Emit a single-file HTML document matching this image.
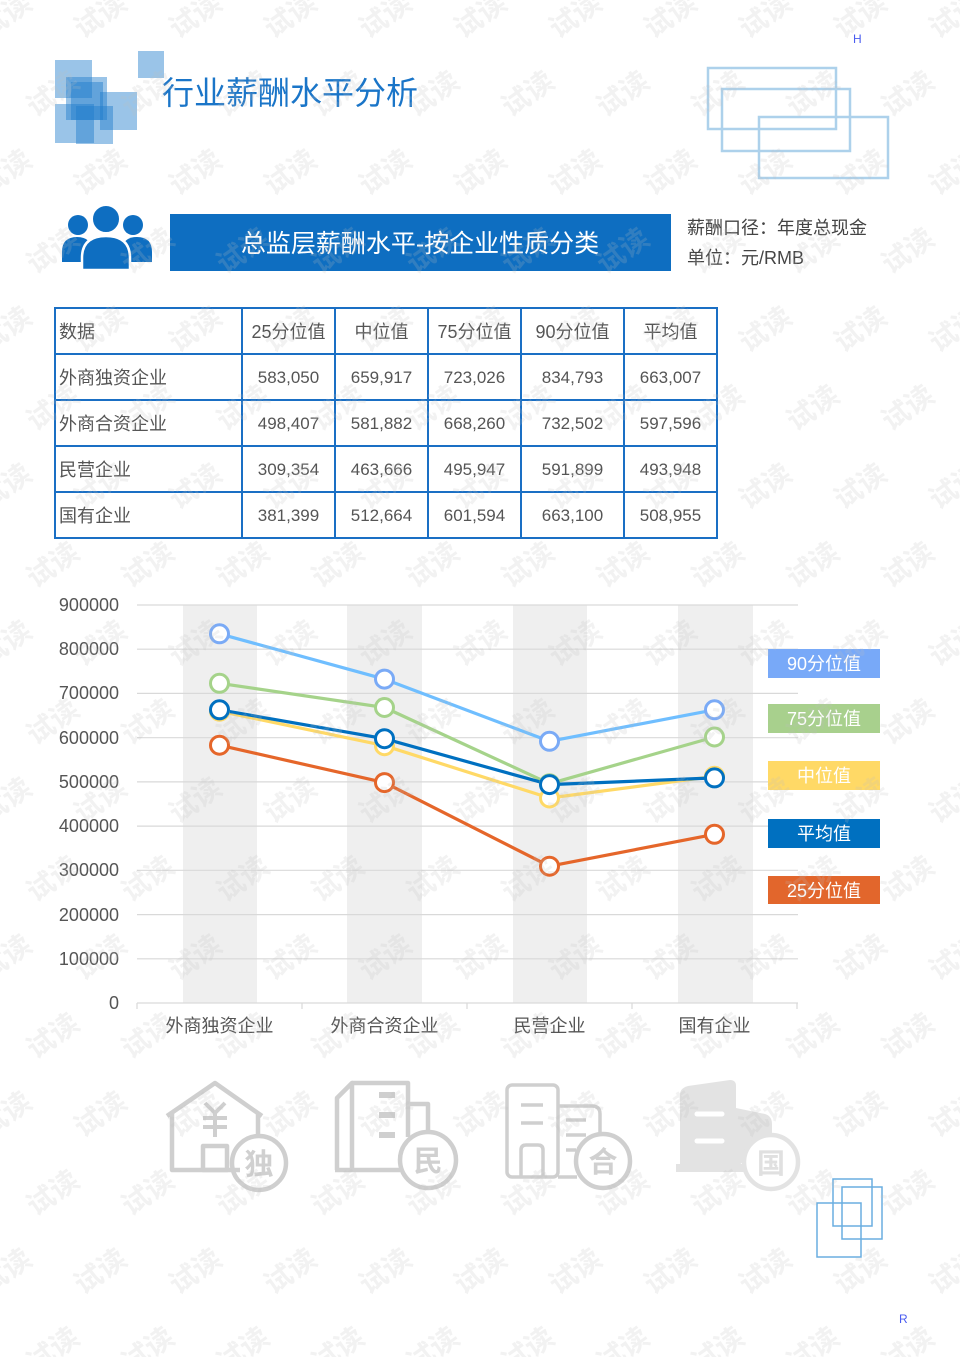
<!DOCTYPE html>
<html><head><meta charset="utf-8"><style>
html,body{margin:0;padding:0;background:#fff;}
svg{display:block;}
text{font-family:"Liberation Sans","Noto Sans CJK SC",sans-serif;}
</style></head><body>
<svg width="960" height="1357" viewBox="0 0 960 1357" xmlns="http://www.w3.org/2000/svg">
<defs>
<pattern id="wm" patternUnits="userSpaceOnUse" x="-42.5" y="-24" width="95" height="157">
<text x="47.5" y="49" font-size="28" font-weight="bold" fill="#bdbdbd" text-anchor="middle" transform="rotate(-35 47.5 39)">试读</text>
<text x="0" y="127.5" font-size="28" font-weight="bold" fill="#bdbdbd" text-anchor="middle" transform="rotate(-35 0 117.5)">试读</text>
<text x="95" y="127.5" font-size="28" font-weight="bold" fill="#bdbdbd" text-anchor="middle" transform="rotate(-35 95 117.5)">试读</text>
</pattern>
</defs>
<rect width="960" height="1357" fill="#fff"/>

<!-- logo squares -->
<g fill="#1f7ccc" fill-opacity="0.45">
<rect x="55" y="60" width="37" height="38"/>
<rect x="66" y="77" width="41" height="43"/>
<rect x="100" y="92" width="37" height="38"/>
<rect x="55" y="104" width="39" height="39"/>
<rect x="76" y="106" width="37" height="38"/>
<rect x="71" y="82" width="32" height="38"/>
<rect x="138" y="51" width="26" height="27"/>
</g>
<text x="162" y="104" font-size="32" fill="#1a75c8">行业薪酬水平分析</text>

<!-- top right rectangles -->
<g fill="none" stroke="#9fc9e8" stroke-width="2.5" opacity="0.85">
<rect x="708" y="68" width="128" height="61"/>
<rect x="722" y="89" width="128" height="62"/>
<rect x="759" y="117" width="129" height="61"/>
</g>
<text x="853" y="43" font-size="12" fill="#4a5cf0">H</text>

<!-- people icon -->
<g fill="#0e6ec1">
<circle cx="78" cy="225" r="10"/>
<circle cx="133" cy="225" r="10"/>
<path d="M62 262 L62 252 Q62 237 77 237 Q92 237 92 252 L92 262 Z"/>
<path d="M122 262 L122 252 Q122 237 137 237 Q152 237 152 252 L152 262 Z"/>
<circle cx="106" cy="219" r="14" stroke="#fff" stroke-width="2"/>
<path d="M82 270 L82 258 Q82 236 106 236 Q130 236 130 258 L130 270 Z" stroke="#fff" stroke-width="2.5"/>
</g>

<!-- banner -->
<rect x="170" y="214" width="501" height="57" fill="#0e6ec1"/>
<text x="420" y="252" font-size="25" fill="#fff" text-anchor="middle">总监层薪酬水平-按企业性质分类</text>
<text x="687" y="234" font-size="18" fill="#444">薪酬口径：年度总现金</text>
<text x="687" y="264" font-size="18" fill="#444">单位：元/RMB</text>

<!-- table -->
<g fill="none" stroke="#1a6fc4" stroke-width="2">
<rect x="55" y="308" width="662" height="230"/>
<line x1="55" y1="354" x2="717" y2="354"/>
<line x1="55" y1="400" x2="717" y2="400"/>
<line x1="55" y1="446" x2="717" y2="446"/>
<line x1="55" y1="492" x2="717" y2="492"/>
<line x1="242" y1="308" x2="242" y2="538"/>
<line x1="335" y1="308" x2="335" y2="538"/>
<line x1="428" y1="308" x2="428" y2="538"/>
<line x1="521" y1="308" x2="521" y2="538"/>
<line x1="624" y1="308" x2="624" y2="538"/>
</g>
<g font-size="18" fill="#555">
<text x="59" y="338">数据</text>
<text x="59" y="384">外商独资企业</text>
<text x="59" y="430">外商合资企业</text>
<text x="59" y="476">民营企业</text>
<text x="59" y="522">国有企业</text>
</g>
<g font-size="17" fill="#555" text-anchor="middle">
<text x="288.5" y="338" font-size="18">25分位值</text>
<text x="381.5" y="338" font-size="18">中位值</text>
<text x="474.5" y="338" font-size="18">75分位值</text>
<text x="572.5" y="338" font-size="18">90分位值</text>
<text x="670.5" y="338" font-size="18">平均值</text>
<text x="288.5" y="383">583,050</text><text x="381.5" y="383">659,917</text><text x="474.5" y="383">723,026</text><text x="572.5" y="383">834,793</text><text x="670.5" y="383">663,007</text>
<text x="288.5" y="429">498,407</text><text x="381.5" y="429">581,882</text><text x="474.5" y="429">668,260</text><text x="572.5" y="429">732,502</text><text x="670.5" y="429">597,596</text>
<text x="288.5" y="475">309,354</text><text x="381.5" y="475">463,666</text><text x="474.5" y="475">495,947</text><text x="572.5" y="475">591,899</text><text x="670.5" y="475">493,948</text>
<text x="288.5" y="521">381,399</text><text x="381.5" y="521">512,664</text><text x="474.5" y="521">601,594</text><text x="572.5" y="521">663,100</text><text x="670.5" y="521">508,955</text>
</g>

<!-- chart bands -->
<g fill="#efefef">
<rect x="183" y="605" width="74" height="398"/>
<rect x="347" y="605" width="75" height="398"/>
<rect x="513" y="605" width="74" height="398"/>
<rect x="678" y="605" width="75" height="398"/>
</g>
<g stroke="#d9d9d9" stroke-width="1.2">
<line x1="137" y1="605" x2="798" y2="605"/>
<line x1="137" y1="649.2" x2="798" y2="649.2"/>
<line x1="137" y1="693.4" x2="798" y2="693.4"/>
<line x1="137" y1="737.7" x2="798" y2="737.7"/>
<line x1="137" y1="781.9" x2="798" y2="781.9"/>
<line x1="137" y1="826.1" x2="798" y2="826.1"/>
<line x1="137" y1="870.3" x2="798" y2="870.3"/>
<line x1="137" y1="914.6" x2="798" y2="914.6"/>
<line x1="137" y1="958.8" x2="798" y2="958.8"/>
<line x1="137" y1="1003" x2="798" y2="1003"/>
<line x1="137" y1="1003" x2="137" y2="1009"/>
<line x1="302" y1="1003" x2="302" y2="1009"/>
<line x1="467" y1="1003" x2="467" y2="1009"/>
<line x1="632" y1="1003" x2="632" y2="1009"/>
<line x1="797" y1="1003" x2="797" y2="1009"/>
</g>
<g font-size="18" fill="#555" text-anchor="end">
<text x="119" y="611">900000</text>
<text x="119" y="655">800000</text>
<text x="119" y="699">700000</text>
<text x="119" y="744">600000</text>
<text x="119" y="788">500000</text>
<text x="119" y="832">400000</text>
<text x="119" y="876">300000</text>
<text x="119" y="921">200000</text>
<text x="119" y="965">100000</text>
<text x="119" y="1009">0</text>
</g>
<g font-size="18" fill="#555" text-anchor="middle">
<text x="219.5" y="1032">外商独资企业</text>
<text x="384.5" y="1032">外商合资企业</text>
<text x="549.5" y="1032">民营企业</text>
<text x="714.5" y="1032">国有企业</text>
</g>

<!-- series -->
<g fill="none" stroke-width="3.2" stroke-linejoin="round">
<polyline stroke="#6fbeff" points="219.5,633.8 384.5,679.1 549.5,741.3 714.5,709.8"/>
<polyline stroke="#a5d38a" points="219.5,683.3 384.5,707.5 549.5,783.7 714.5,737"/>
<polyline stroke="#ffd966" points="219.5,711.2 384.5,745.7 549.5,798 714.5,776.3"/>
<polyline stroke="#e5662a" points="219.5,745.2 384.5,782.6 549.5,866.2 714.5,834.3"/>
<polyline stroke="#0070c0" points="219.5,709.8 384.5,738.7 549.5,784.6 714.5,777.9"/>
</g>
<g fill="#fff" stroke-width="3">
<g stroke="#7aaaf6"><circle cx="219.5" cy="633.8" r="9"/><circle cx="384.5" cy="679.1" r="9"/><circle cx="549.5" cy="741.3" r="9"/><circle cx="714.5" cy="709.8" r="9"/></g>
<g stroke="#a5d38a"><circle cx="219.5" cy="683.3" r="9"/><circle cx="384.5" cy="707.5" r="9"/><circle cx="549.5" cy="783.7" r="9"/><circle cx="714.5" cy="737" r="9"/></g>
<g stroke="#ffd966"><circle cx="219.5" cy="711.2" r="9"/><circle cx="384.5" cy="745.7" r="9"/><circle cx="549.5" cy="798" r="9"/><circle cx="714.5" cy="776.3" r="9"/></g>
<g stroke="#e5662a"><circle cx="219.5" cy="745.2" r="9"/><circle cx="384.5" cy="782.6" r="9"/><circle cx="549.5" cy="866.2" r="9"/><circle cx="714.5" cy="834.3" r="9"/></g>
<g stroke="#0070c0"><circle cx="219.5" cy="709.8" r="9"/><circle cx="384.5" cy="738.7" r="9"/><circle cx="549.5" cy="784.6" r="9"/><circle cx="714.5" cy="777.9" r="9"/></g>
</g>

<!-- legend -->
<rect x="768" y="649" width="112" height="29" fill="#78a9f8"/>
<rect x="768" y="704" width="112" height="29" fill="#a8d08d"/>
<rect x="768" y="761" width="112" height="29" fill="#ffd966"/>
<rect x="768" y="819" width="112" height="29" fill="#0070c0"/>
<rect x="768" y="876" width="112" height="28" fill="#e2662c"/>
<g font-size="18" fill="#fff" text-anchor="middle">
<text x="824" y="670">90分位值</text>
<text x="824" y="725">75分位值</text>
<text x="824" y="782">中位值</text>
<text x="824" y="840">平均值</text>
<text x="824" y="897">25分位值</text>
</g>

<!-- bottom icons -->
<g fill="none" stroke="#cfcfcf" stroke-width="4.5" stroke-linejoin="round">
<path d="M167 1116 L215 1083 L262 1116"/>
<path d="M172 1113 L172 1170 L240 1170"/>
<path d="M258 1113 L258 1136"/>
<rect x="203" y="1146" width="24" height="24"/>
<path d="M205 1103 L215 1113 L225 1103 M215 1113 L215 1137 M203 1118 L227 1118 M203 1127 L227 1127" stroke-width="4"/>
<circle cx="259" cy="1163" r="27"/>
<path d="M337 1170 L337 1098 L352 1083 L352 1170" />
<path d="M352 1083 L408 1083 L408 1137"/>
<path d="M408 1104 L428 1104 L428 1132"/>
<path d="M335 1170 L400 1170"/>
<path d="M379 1095 L395 1095 M379 1115 L395 1115 M379 1135 L395 1135" stroke-width="6"/>
<circle cx="428" cy="1160" r="28"/>
<rect x="507" y="1085" width="51" height="92" rx="5" stroke-width="3.5"/>
<path d="M558 1106 L592 1106 Q600 1106 600 1114 L600 1135" stroke-width="3.5"/>
<path d="M558 1177 L577 1177" stroke-width="3.5"/>
<path d="M521 1177 L521 1150 Q521 1145 526 1145 L538 1145 Q543 1145 543 1150 L543 1177" stroke-width="3.5"/>
<path d="M521 1105 L543 1105 M521 1123 L543 1123 M566 1120 L586 1120 M566 1135 L586 1135 M566 1150 L576 1150" stroke-width="3.5"/>
<circle cx="603" cy="1161" r="27"/>
</g>
<g fill="#d0d0d0" font-size="29" font-weight="bold" text-anchor="middle">
<text x="259" y="1174">独</text>
<text x="428" y="1171">民</text>
<text x="603" y="1172">合</text>
</g>
<g fill="#e3e3e3">
<path d="M680 1168 L680 1095 Q680 1088 688 1086 L730 1080 Q736 1080 736 1086 L736 1168 Z"/>
<path d="M736 1108 L765 1114 Q772 1116 772 1124 L772 1140 L745 1160 L736 1168 Z"/>
<rect x="676" y="1164" width="70" height="8"/>
</g>
<g stroke="#fff" stroke-width="5" stroke-linecap="round">
<line x1="697" y1="1114" x2="722" y2="1114"/>
<line x1="697" y1="1141" x2="722" y2="1141"/>
</g>
<circle cx="771" cy="1162" r="27" fill="#fff" stroke="#e3e3e3" stroke-width="4.5"/>
<text x="771" y="1173" font-size="28" font-weight="bold" fill="#e0e0e0" text-anchor="middle">国</text>

<!-- bottom right squares -->
<g fill="none" stroke="#6aaee0" stroke-width="1.5">
<rect x="833" y="1179" width="39" height="47"/>
<rect x="842" y="1187" width="40" height="52"/>
<rect x="817" y="1203" width="44" height="54"/>
</g>
<text x="899" y="1323" font-size="12" fill="#4a5cf0">R</text>

<!-- watermark -->
<rect width="960" height="1357" fill="url(#wm)" opacity="0.2"/>
</svg>
</body></html>
